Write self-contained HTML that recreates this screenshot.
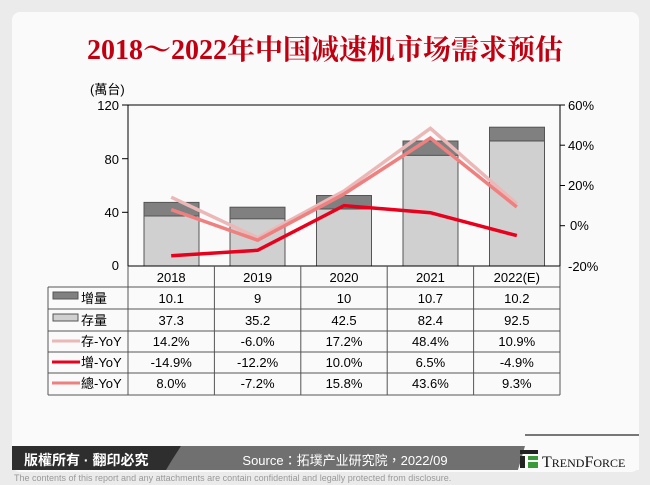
<!DOCTYPE html>
<html><head><meta charset="utf-8"><style>
html,body{margin:0;padding:0;background:#ebebeb;}
svg{display:block;}
text{font-family:"Liberation Sans","Noto Sans CJK TC",sans-serif;}
</style></head><body>
<svg width="650" height="485" viewBox="0 0 650 485" xmlns="http://www.w3.org/2000/svg">
<rect x="0" y="0" width="650" height="485" fill="#ebebeb"/>
<rect x="12" y="12" width="627" height="460" rx="8" fill="#fafafa"/>
<text x="325" y="59" text-anchor="middle" font-size="28" font-weight="bold" fill="#c00010" style="font-family:'Liberation Serif','Noto Serif CJK SC',serif">2018～2022年中国减速机市场需求预估</text>
<text x="90" y="94" font-size="13" fill="#000">(萬台)</text>
<g font-size="13" fill="#000">
<text x="119" y="110" text-anchor="end">120</text>
<text x="119" y="164" text-anchor="end">80</text>
<text x="119" y="217" text-anchor="end">40</text>
<text x="119" y="270" text-anchor="end">0</text>
<text x="568" y="110">60%</text>
<text x="568" y="150">40%</text>
<text x="568" y="190">20%</text>
<text x="570" y="230">0%</text>
<text x="568" y="271">-20%</text>
</g>
<g stroke="#000" stroke-width="1">
<line x1="122" y1="105" x2="128" y2="105"/><line x1="122" y1="158.7" x2="128" y2="158.7"/><line x1="122" y1="212.3" x2="128" y2="212.3"/>
<line x1="560" y1="105" x2="565" y2="105"/><line x1="560" y1="145.2" x2="565" y2="145.2"/><line x1="560" y1="185.5" x2="565" y2="185.5"/><line x1="560" y1="225.7" x2="565" y2="225.7"/>
</g>
<g stroke="#555" stroke-width="1">
<rect x="144" y="202.4" width="55" height="13.6" fill="#808080"/><rect x="144" y="216" width="55" height="50" fill="#d0d0d0"/>
<rect x="230" y="207.2" width="55" height="12.1" fill="#808080"/><rect x="230" y="218.8" width="55" height="47.2" fill="#d0d0d0"/>
<rect x="316.5" y="195.5" width="55" height="13.4" fill="#808080"/><rect x="316.5" y="209" width="55" height="57" fill="#d0d0d0"/>
<rect x="403" y="141" width="55" height="14.4" fill="#808080"/><rect x="403" y="155.4" width="55" height="110.6" fill="#d0d0d0"/>
<rect x="489.5" y="127.2" width="55" height="13.7" fill="#808080"/><rect x="489.5" y="141" width="55" height="125" fill="#d0d0d0"/>
</g>
<rect x="128" y="105" width="432" height="161" fill="none" stroke="#000" stroke-width="1"/>
<polyline points="171.2,197.2 257.6,237.8 344,191.1 430.4,128.3 516.8,203.8" fill="none" stroke="#ebb8b8" stroke-width="3.5"/>
<polyline points="171.2,209.6 257.6,240.2 344,194 430.4,138 516.8,207" fill="none" stroke="#ef8080" stroke-width="3.5"/>
<polyline points="171.2,255.7 257.6,250.3 344,205.6 430.4,212.7 516.8,235.6" fill="none" stroke="#e8001c" stroke-width="3.5"/>
<g stroke="#555" stroke-width="1" fill="none">
<line x1="48" y1="287" x2="560" y2="287"/><line x1="48" y1="309" x2="560" y2="309"/><line x1="48" y1="331" x2="560" y2="331"/><line x1="48" y1="352" x2="560" y2="352"/><line x1="48" y1="373" x2="560" y2="373"/><line x1="48" y1="395" x2="560" y2="395"/>
<line x1="48" y1="287" x2="48" y2="395"/><line x1="128" y1="266" x2="128" y2="395"/><line x1="214.4" y1="266" x2="214.4" y2="395"/><line x1="300.8" y1="266" x2="300.8" y2="395"/><line x1="387.2" y1="266" x2="387.2" y2="395"/><line x1="473.6" y1="266" x2="473.6" y2="395"/><line x1="560" y1="266" x2="560" y2="395"/>
</g>
<rect x="53" y="292" width="25" height="7" fill="#808080" stroke="#555"/>
<rect x="53" y="314" width="25" height="7" fill="#d0d0d0" stroke="#555"/>
<line x1="52" y1="341" x2="80" y2="341" stroke="#ebb8b8" stroke-width="3"/>
<line x1="52" y1="362" x2="80" y2="362" stroke="#e8001c" stroke-width="3"/>
<line x1="52" y1="383" x2="80" y2="383" stroke="#ef8080" stroke-width="3"/>
<g font-size="13" fill="#000">
<text x="81" y="303">增量</text><text x="81" y="325">存量</text><text x="81" y="346">存-YoY</text><text x="81" y="367">增-YoY</text><text x="81" y="388">總-YoY</text>
</g>
<g font-size="13" fill="#000" text-anchor="middle">
<text x="171.2" y="282">2018</text><text x="257.6" y="282">2019</text><text x="344" y="282">2020</text><text x="430.4" y="282">2021</text><text x="516.8" y="282">2022(E)</text>
<text x="171.2" y="303">10.1</text><text x="257.6" y="303">9</text><text x="344" y="303">10</text><text x="430.4" y="303">10.7</text><text x="516.8" y="303">10.2</text>
<text x="171.2" y="325">37.3</text><text x="257.6" y="325">35.2</text><text x="344" y="325">42.5</text><text x="430.4" y="325">82.4</text><text x="516.8" y="325">92.5</text>
<text x="171.2" y="346">14.2%</text><text x="257.6" y="346">-6.0%</text><text x="344" y="346">17.2%</text><text x="430.4" y="346">48.4%</text><text x="516.8" y="346">10.9%</text>
<text x="171.2" y="367">-14.9%</text><text x="257.6" y="367">-12.2%</text><text x="344" y="367">10.0%</text><text x="430.4" y="367">6.5%</text><text x="516.8" y="367">-4.9%</text>
<text x="171.2" y="388">8.0%</text><text x="257.6" y="388">-7.2%</text><text x="344" y="388">15.8%</text><text x="430.4" y="388">43.6%</text><text x="516.8" y="388">9.3%</text>
</g>
<polygon points="12,446 181,446 176,470 12,470" fill="#2e2e2e"/>
<polygon points="172,460 181,446 525,446 518,470 166,470" fill="#707070"/>
<polygon points="518,470 530,434 639,434 639,470" fill="#fafafa"/>
<line x1="525" y1="435" x2="639" y2="435" stroke="#777" stroke-width="2"/>
<text x="24" y="465" font-size="14" font-weight="bold" fill="#fff">版權所有 · 翻印必究</text>
<text x="345" y="465" font-size="13" fill="#fff" text-anchor="middle">Source：拓墣产业研究院，2022/09</text>
<rect x="520" y="450" width="18" height="4" fill="#222"/><rect x="520" y="456" width="5" height="12" fill="#222"/><rect x="528" y="456" width="10" height="4" fill="#3a9a3a"/><rect x="528" y="462" width="10" height="6" fill="#3a9a3a"/>
<text x="542" y="467" font-size="16" fill="#111" style="font-family:'Liberation Serif',serif">T<tspan font-size="12">REND</tspan>F<tspan font-size="12">ORCE</tspan></text>
<text x="14" y="481" font-size="9" fill="#999">The contents of this report and any attachments are contain confidential and legally protected from disclosure.</text>
</svg>
</body></html>
